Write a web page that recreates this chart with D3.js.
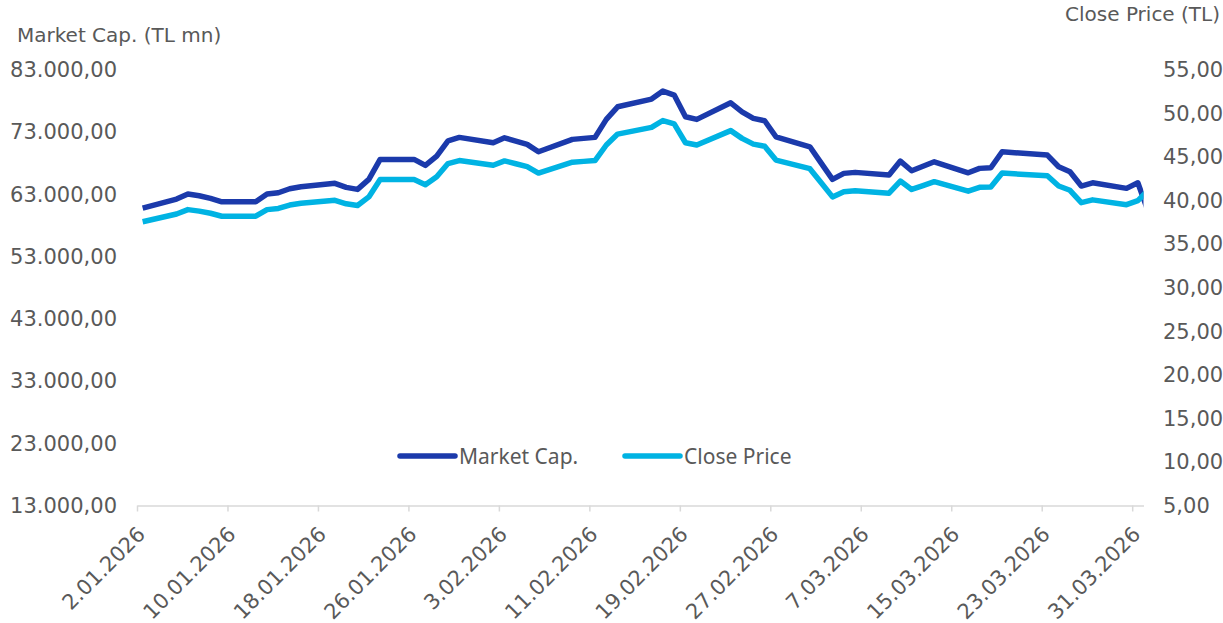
<!DOCTYPE html>
<html lang="en">
<head>
<meta charset="UTF-8">
<title>Market Cap. / Close Price</title>
<style>
  body { margin: 0; background: #fff; }
  svg text { font-family: "DejaVu Sans", Verdana, sans-serif; fill: #595959; }
</style>
</head>
<body>
<script src="https://cdn.jsdelivr.net/npm/d3@7"></script>
<script>
// trading days (Jan 2 - Apr 1 2026)
var dates = [
  "2026-01-02","2026-01-05","2026-01-06","2026-01-07","2026-01-08","2026-01-09",
  "2026-01-12","2026-01-13","2026-01-14","2026-01-15","2026-01-16",
  "2026-01-19","2026-01-20","2026-01-21","2026-01-22","2026-01-23",
  "2026-01-26","2026-01-27","2026-01-28","2026-01-29","2026-01-30",
  "2026-02-02","2026-02-03","2026-02-04","2026-02-05","2026-02-06",
  "2026-02-09","2026-02-10","2026-02-11","2026-02-12","2026-02-13",
  "2026-02-16","2026-02-17","2026-02-18","2026-02-19","2026-02-20",
  "2026-02-23","2026-02-24","2026-02-25","2026-02-26","2026-02-27",
  "2026-03-02","2026-03-03","2026-03-04","2026-03-05","2026-03-06",
  "2026-03-09","2026-03-10","2026-03-11","2026-03-12","2026-03-13",
  "2026-03-16","2026-03-17","2026-03-18","2026-03-19",
  "2026-03-23","2026-03-24","2026-03-25","2026-03-26","2026-03-27",
  "2026-03-30","2026-03-31","2026-04-01"
];
// Market Cap. (TL mn)
var marketCap = [
  60800, 62250, 63060, 62785, 62370, 61820,
  61820, 63060, 63270, 63910, 64230,
  64780, 64135, 63810, 65420, 68630,
  68630, 67670, 69165, 71620, 72170,
  71300, 72105, 71575, 71045, 69855,
  71850, 72010, 72170, 75060, 77085,
  78325, 79610, 78967, 75480, 75060,
  77730, 76284, 75223, 74837, 72266,
  70659, 68040, 65420, 66385, 66545,
  66111, 68361, 66802, 67526, 68249,
  66481, 67188, 67284, 69855,
  69325, 67445, 66642, 64344, 64874,
  63974, 64874, 59845
];
// Close Price (TL)
var closePrice = [
  37.58, 38.47, 38.97, 38.80, 38.55, 38.21,
  38.21, 38.97, 39.10, 39.50, 39.70,
  40.04, 39.64, 39.44, 40.43, 42.42,
  42.42, 41.82, 42.75, 44.26, 44.60,
  44.07, 44.56, 44.24, 43.91, 43.17,
  44.41, 44.51, 44.60, 46.39, 47.64,
  48.41, 49.20, 48.81, 46.65, 46.39,
  48.04, 47.15, 46.49, 46.25, 44.66,
  43.67, 42.05, 40.43, 41.03, 41.13,
  40.86, 42.25, 41.29, 41.73, 42.18,
  41.09, 41.53, 41.58, 43.17,
  42.85, 41.68, 41.19, 39.77, 40.09,
  39.54, 40.00, 41.30
];
var leftTicks = [13000, 23000, 33000, 43000, 53000, 63000, 73000, 83000];
var rightTicks = [5, 10, 15, 20, 25, 30, 35, 40, 45, 50, 55];
var seriesNames = ["Market Cap.", "Close Price"];
var colors = ["#1B3AAB", "#00B3E3"];

var W = 1223, H = 623;
// plot box
var pL = 137, pR = 1143.5, pT = 70, pB = 505.5;

var svg = d3.select("body").append("svg").attr("width", W).attr("height", H);

var parse = d3.utcParse("%Y-%m-%d");
var start = parse("2026-01-02"), end = parse("2026-04-01");
var x = d3.scaleUtc().domain([start, end]).range([pL, pR]);
var yL = d3.scaleLinear().domain([13000, 83000]).range([pB, pT]);
var yR = d3.scaleLinear().domain([5, 55]).range([pB, pT]);

var tr = d3.formatLocale({decimal: ",", thousands: ".", grouping: [3], currency: ["", ""]});
var fmt = tr.format(",.2f");

var rows = dates.map(function(d, i) {
  // points sit in the middle of the day slot
  return {date: d3.utcHour.offset(parse(d), 12), mc: marketCap[i], cp: closePrice[i]};
});

// x axis
var xTicks = d3.range(0, 89, 8).map(function(k) { return d3.utcDay.offset(start, k); });
var xAxis = svg.append("g").attr("transform", "translate(0," + pB + ")")
  .call(d3.axisBottom(x).tickValues(xTicks).tickSize(6).tickSizeOuter(0).tickFormat(d3.utcFormat("%-d.%m.%Y")));
xAxis.attr("font-family", null);
xAxis.select(".domain").attr("stroke", "#D9D9D9").attr("stroke-width", 1.5);
xAxis.selectAll(".tick line").attr("stroke", "#D9D9D9").attr("stroke-width", 1.5);
xAxis.selectAll(".tick text")
  .attr("font-size", 21).attr("fill", "#595959")
  .attr("text-anchor", "end")
  .attr("x", 0).attr("y", 0).attr("dy", null)
  .attr("transform", "translate(9,30) rotate(-45)");

// left axis
var lAxis = svg.append("g").attr("transform", "translate(" + (pL - 20) + ",0)")
  .call(d3.axisLeft(yL).tickValues(leftTicks).tickSize(0).tickFormat(fmt));
lAxis.attr("font-family", null);
lAxis.select(".domain").remove();
lAxis.selectAll(".tick text").attr("font-size", 21).attr("fill", "#595959").attr("x", 0);

// right axis
var rAxis = svg.append("g").attr("transform", "translate(1163,0)")
  .call(d3.axisRight(yR).tickValues(rightTicks).tickSize(0).tickFormat(fmt));
rAxis.attr("font-family", null);
rAxis.select(".domain").remove();
rAxis.selectAll(".tick text").attr("font-size", 21).attr("fill", "#595959").attr("x", 0);

// axis titles
svg.append("text").attr("x", 17).attr("y", 42).attr("font-size", 20).text("Market Cap. (TL mn)");
svg.append("text").attr("x", 1220).attr("y", 21).attr("font-size", 20).attr("text-anchor", "end").text("Close Price (TL)");

// lines, clipped to plot area
svg.append("clipPath").attr("id", "plot").append("rect")
  .attr("x", pL).attr("y", 0).attr("width", pR - pL).attr("height", H);

var lineMc = d3.line().x(function(d) { return x(d.date); }).y(function(d) { return yL(d.mc); });
var lineCp = d3.line().x(function(d) { return x(d.date); }).y(function(d) { return yR(d.cp); });

var g = svg.append("g").attr("clip-path", "url(#plot)");
g.append("path").datum(rows).attr("d", lineMc)
  .attr("fill", "none").attr("stroke", colors[0]).attr("stroke-width", 5.5).attr("stroke-linejoin", "round");
g.append("path").datum(rows).attr("d", lineCp)
  .attr("fill", "none").attr("stroke", colors[1]).attr("stroke-width", 5.5).attr("stroke-linejoin", "round");

// legend
var legX = [400, 625];
var leg = svg.selectAll(".leg").data(seriesNames).enter().append("g")
  .attr("transform", function(d, i) { return "translate(" + legX[i] + ",456)"; });
leg.append("line").attr("x1", 0).attr("x2", 55).attr("y1", 0).attr("y2", 0)
  .attr("stroke", function(d, i) { return colors[i]; }).attr("stroke-width", 5.5).attr("stroke-linecap", "round");
leg.append("text").attr("x", 59).attr("y", 7.5)
  .style("font-family", "'Noto Sans', sans-serif").attr("font-size", 21)
  .text(function(d) { return d; });
</script>
</body>
</html>
